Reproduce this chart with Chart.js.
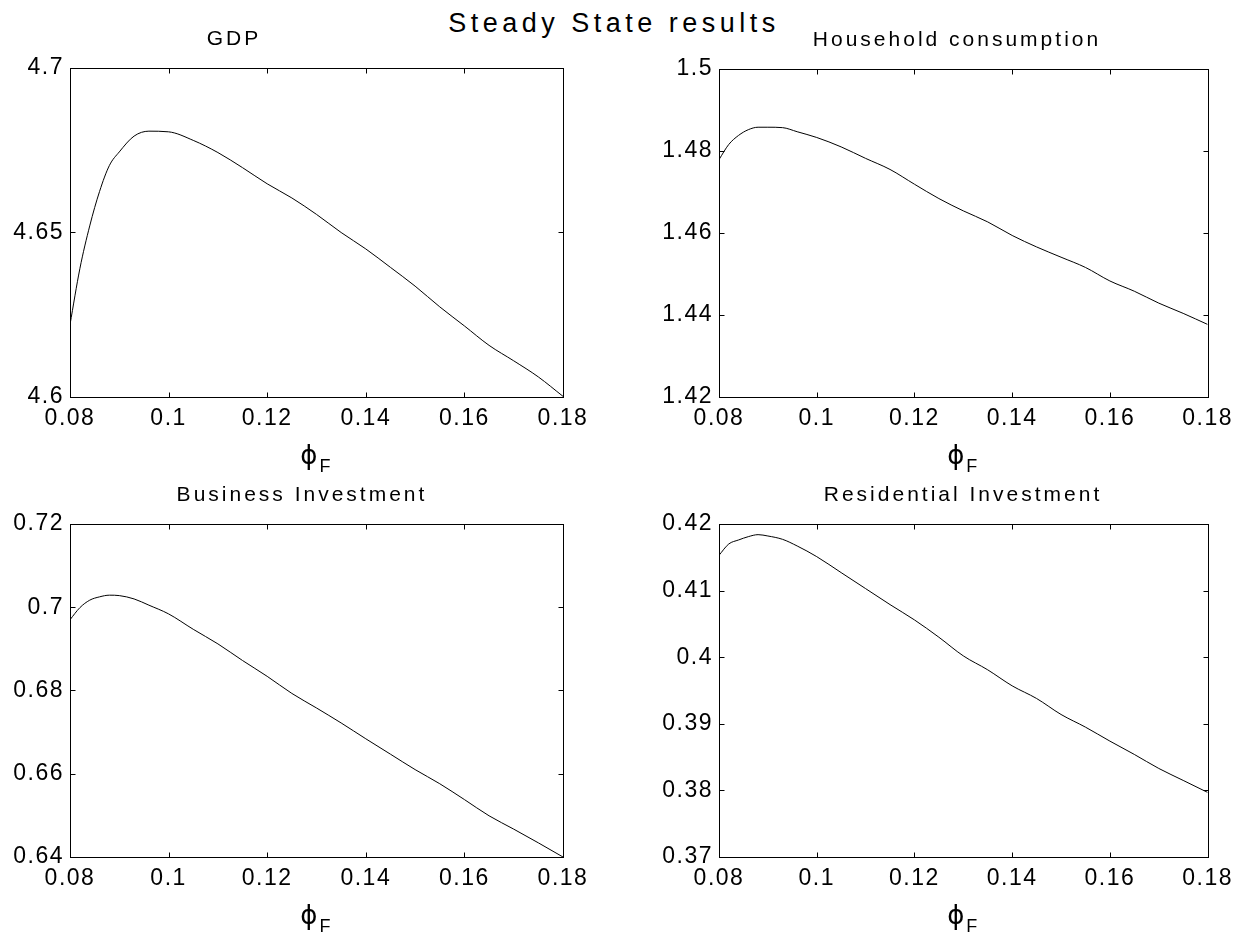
<!DOCTYPE html>
<html>
<head>
<meta charset="utf-8">
<script src="https://cdn.jsdelivr.net/npm/chart.js@4.4.0/dist/chart.umd.min.js"></script>
<style>
  body { margin: 0; background: #fff; }
  #page { position: relative; width: 1241px; height: 934px; overflow: hidden; background: #fff; }
  #page canvas { position: absolute; }
  #suptitle {
    position: absolute; left: 0; top: 8px; width: 1228px; text-align: center;
    font-family: "Liberation Sans", Arial, sans-serif; font-size: 27px; letter-spacing: 4.5px; color: #000;
  }
</style>
</head>
<body>
<div id="page">
  <div id="suptitle">Steady State results</div>
  <canvas id="bizChart" width="620" height="467" style="left:0;top:467px"></canvas>
  <canvas id="resChart" width="621" height="467" style="left:620px;top:467px"></canvas>
  <canvas id="gdpChart" width="620" height="490" style="left:0;top:0"></canvas>
  <canvas id="consChart" width="621" height="490" style="left:620px;top:0"></canvas>
</div>
<script>
// phi_F grid and steady state values
var phiF = [0.08, 0.082, 0.084, 0.086, 0.088, 0.09, 0.093, 0.096, 0.1, 0.105, 0.11, 0.115, 0.12,
            0.125, 0.13, 0.135, 0.14, 0.145, 0.15, 0.155, 0.16, 0.165, 0.17, 0.175, 0.18];
var gdp = [4.622, 4.639, 4.652, 4.6625, 4.6704, 4.6745, 4.6793, 4.6808, 4.6806, 4.678, 4.6743, 4.6697, 4.6648,
           4.6605, 4.6555, 4.650, 4.645, 4.6394, 4.6337, 4.6274, 4.6216, 4.6157, 4.611, 4.6061, 4.6002];
var consumption = [1.4779, 1.4816, 1.4838, 1.4852, 1.4858, 1.4858, 1.4857, 1.4847, 1.4833, 1.4810, 1.4782, 1.4755, 1.4719,
                   1.4684, 1.4654, 1.4627, 1.4594, 1.4566, 1.4541, 1.4516, 1.4483, 1.4458, 1.4429, 1.4404, 1.4377];
var businessInv = [0.6970, 0.6999, 0.7017, 0.7025, 0.7029, 0.7028, 0.7020, 0.7005, 0.6984, 0.6947, 0.6912, 0.6872, 0.6834,
                   0.6793, 0.6758, 0.6722, 0.6684, 0.6647, 0.6610, 0.6576, 0.6538, 0.6499, 0.6467, 0.6434, 0.6400];
var residentialInv = [0.4153, 0.4170, 0.4176, 0.4181, 0.4184, 0.4182, 0.4177, 0.4167, 0.4151, 0.4127, 0.4103, 0.4079, 0.4056,
                      0.4030, 0.4002, 0.3981, 0.3957, 0.3938, 0.3914, 0.3895, 0.3874, 0.3854, 0.3833, 0.3815, 0.3797];

var xTicks = [0.08, 0.1, 0.12, 0.14, 0.16, 0.18];
var xTickLabels = ['0.08', '0.1', '0.12', '0.14', '0.16', '0.18'];
var gdpTicks = [4.6, 4.65, 4.7];
var gdpTickLabels = ['4.6', '4.65', '4.7'];
var consTicks = [1.42, 1.44, 1.46, 1.48, 1.5];
var consTickLabels = ['1.42', '1.44', '1.46', '1.48', '1.5'];
var bizTicks = [0.64, 0.66, 0.68, 0.7, 0.72];
var bizTickLabels = ['0.64', '0.66', '0.68', '0.7', '0.72'];
var resTicks = [0.37, 0.38, 0.39, 0.4, 0.41, 0.42];
var resTickLabels = ['0.37', '0.38', '0.39', '0.4', '0.41', '0.42'];

var FONT = '"Liberation Sans", Arial, sans-serif';

// matlab-ish text is drawn slightly spaced out
var spacing = {
  id: 'spacing',
  beforeLayout: function(chart) { chart.ctx.letterSpacing = '1.5px'; },
  beforeDraw: function(chart) { chart.ctx.letterSpacing = '1.5px'; }
};

// box round the axes, inward ticks on all four sides, panel title and phi_F label
var matlabFrame = {
  id: 'matlabFrame',
  afterDraw: function(chart) {
    var o = chart.options.plugins.matlabFrame;
    var ctx = chart.ctx, a = chart.chartArea;
    var xs = chart.scales.x, ys = chart.scales.y;
    var L = Math.round(a.left) + 0.5, R = Math.round(a.right) + 0.5;
    var T = Math.round(a.top) + 0.5, B = Math.round(a.bottom) + 0.5;
    ctx.save();
    ctx.strokeStyle = '#000';
    ctx.lineWidth = 1;
    ctx.strokeRect(L, T, R - L, B - T);
    ctx.beginPath();
    xs.ticks.forEach(function(t) {
      var px = Math.round(xs.getPixelForValue(t.value)) + 0.5;
      ctx.moveTo(px, B); ctx.lineTo(px, B - 5);
      ctx.moveTo(px, T); ctx.lineTo(px, T + 5);
    });
    ys.ticks.forEach(function(t) {
      var py = Math.round(ys.getPixelForValue(t.value)) + 0.5;
      ctx.moveTo(L, py); ctx.lineTo(L + 5, py);
      ctx.moveTo(R, py); ctx.lineTo(R - 5, py);
    });
    ctx.stroke();

    ctx.fillStyle = '#000';
    ctx.textBaseline = 'middle';
    ctx.textAlign = 'center';
    ctx.letterSpacing = '3px';
    ctx.font = '21px ' + FONT;
    ctx.fillText(o.title, o.titleX, a.top - 29);

    var cx = (a.left + a.right) / 2;
    ctx.letterSpacing = '0px';
    ctx.font = '26px "DejaVu Sans"';
    ctx.textAlign = 'right';
    ctx.fillText('\u03d5', cx + 1, B + 60);
    ctx.font = '18px ' + FONT;
    ctx.textAlign = 'left';
    ctx.fillText('F', cx + 3, B + 70);
    ctx.restore();
  }
};

function makePanel(id, values, yTicks, yLabels, title, area, canvasH, titleX) {
  var ctx = document.getElementById(id);
  return new Chart(ctx, {
    type: 'line',
    data: {
      datasets: [{
        data: phiF.map(function(x, i) { return { x: x, y: values[i] }; }),
        borderColor: '#000',
        borderWidth: 1,
        pointRadius: 0,
        cubicInterpolationMode: 'monotone',
        fill: false
      }]
    },
    options: {
      responsive: false,
      animation: false,
      layout: { padding: { left: 0, top: area.top, right: area.right, bottom: 0 } },
      plugins: {
        legend: { display: false },
        tooltip: { enabled: false },
        matlabFrame: { title: title, titleX: titleX }
      },
      scales: {
        x: {
          type: 'linear',
          min: xTicks[0],
          max: xTicks[xTicks.length - 1],
          afterBuildTicks: function(s) { s.ticks = xTicks.map(function(v) { return { value: v }; }); },
          afterFit: function(s) { s.height = canvasH - area.bottom; },
          grid: { display: false, drawTicks: false },
          border: { display: false },
          ticks: {
            color: '#000', font: { family: FONT, size: 23 }, padding: 8, maxRotation: 0, autoSkip: false,
            callback: function(v) { return xTickLabels[xTicks.indexOf(v)]; }
          }
        },
        y: {
          min: yTicks[0],
          max: yTicks[yTicks.length - 1],
          afterBuildTicks: function(s) { s.ticks = yTicks.map(function(v) { return { value: v }; }); },
          afterFit: function(s) { s.width = area.left; },
          grid: { display: false, drawTicks: false },
          border: { display: false },
          ticks: {
            color: '#000', font: { family: FONT, size: 23 }, padding: 6, autoSkip: false,
            callback: function(v) { return yLabels[yTicks.indexOf(v)]; }
          }
        }
      }
    },
    plugins: [spacing, matlabFrame]
  });
}

makePanel('gdpChart', gdp, gdpTicks, gdpTickLabels, 'GDP', { left: 70, top: 68, right: 57, bottom: 397 }, 490, 234);
makePanel('consChart', consumption, consTicks, consTickLabels, 'Household consumption', { left: 99, top: 69, right: 30, bottom: 397 }, 490, 337);
makePanel('bizChart', businessInv, bizTicks, bizTickLabels, 'Business Investment', { left: 70, top: 57, right: 57, bottom: 390 }, 467, 302);
makePanel('resChart', residentialInv, resTicks, resTickLabels, 'Residential Investment', { left: 99, top: 57, right: 30, bottom: 390 }, 467, 343);
</script>
</body>
</html>
